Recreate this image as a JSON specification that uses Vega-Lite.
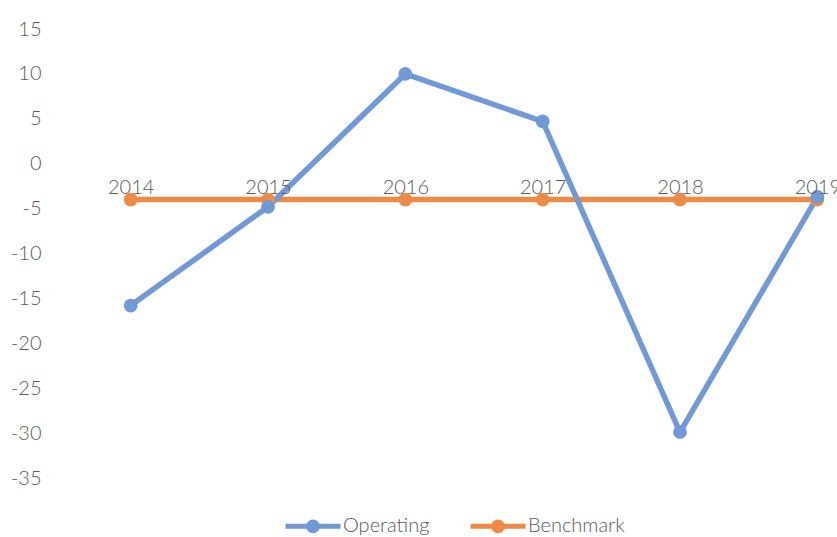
{
  "$schema": "https://vega.github.io/schema/vega-lite/v6.json",
  "width": 824,
  "height": 449,
  "autosize": {"type": "none"},
  "padding": {"left": 62, "top": 29, "right": 0, "bottom": 59},
  "background": "white",
  "config": {"view": {"stroke": null}, "font": "Lato"},
  "data": {
    "values": [
      {"year": "2014", "series": "Benchmark", "value": -4},
      {"year": "2015", "series": "Benchmark", "value": -4},
      {"year": "2016", "series": "Benchmark", "value": -4},
      {"year": "2017", "series": "Benchmark", "value": -4},
      {"year": "2018", "series": "Benchmark", "value": -4},
      {"year": "2019", "series": "Benchmark", "value": -4},
      {"year": "2014", "series": "Operating", "value": -15.8},
      {"year": "2015", "series": "Operating", "value": -4.8},
      {"year": "2016", "series": "Operating", "value": 10.0},
      {"year": "2017", "series": "Operating", "value": 4.7},
      {"year": "2018", "series": "Operating", "value": -29.9},
      {"year": "2019", "series": "Operating", "value": -3.7}
    ]
  },
  "mark": {"type": "line", "strokeWidth": 5.5, "point": {"size": 190, "filled": true, "opacity": 1}},
  "encoding": {
    "x": {
      "field": "year",
      "type": "ordinal",
      "scale": {"type": "point", "padding": 0.5},
      "axis": {
        "title": null,
        "labelAngle": 0,
        "domain": false,
        "ticks": false,
        "offset": -320,
        "labelPadding": 19,
        "labelFontSize": 20,
        "labelFontWeight": 300,
        "labelColor": "#595959",
        "zindex": 1
      }
    },
    "y": {
      "field": "value",
      "type": "quantitative",
      "scale": {"domain": [-35, 15], "nice": false, "zero": false},
      "axis": {
        "title": null,
        "values": [-35, -30, -25, -20, -15, -10, -5, 0, 5, 10, 15],
        "labelExpr": "replace(datum.label, '−', '-')",
        "grid": false,
        "domain": false,
        "ticks": false,
        "labelPadding": 21,
        "labelFontSize": 20,
        "labelFontWeight": 300,
        "labelColor": "#595959"
      }
    },
    "color": {
      "field": "series",
      "type": "nominal",
      "scale": {"domain": ["Operating", "Benchmark"], "range": ["#7199d8", "#ed8a45"]},
      "legend": {
        "title": null,
        "orient": "none",
        "direction": "horizontal",
        "legendX": 221,
        "legendY": 467,
        "symbolType": "M-1,0H1M-0.16,0A0.16,0.16 0 1,1 0.16,0A0.16,0.16 0 1,1 -0.16,0Z",
        "symbolSize": 3025,
        "symbolStrokeWidth": 5,
        "labelFontSize": 20,
        "labelFontWeight": 300,
        "labelColor": "#595959",
        "labelOffset": 0,
        "columnPadding": 30,
        "encode": {
          "symbols": {
            "update": {
              "fill": {"scale": "color", "field": "value"},
              "stroke": {"scale": "color", "field": "value"},
              "opacity": {"value": 1}
            }
          }
        }
      }
    }
  }
}
